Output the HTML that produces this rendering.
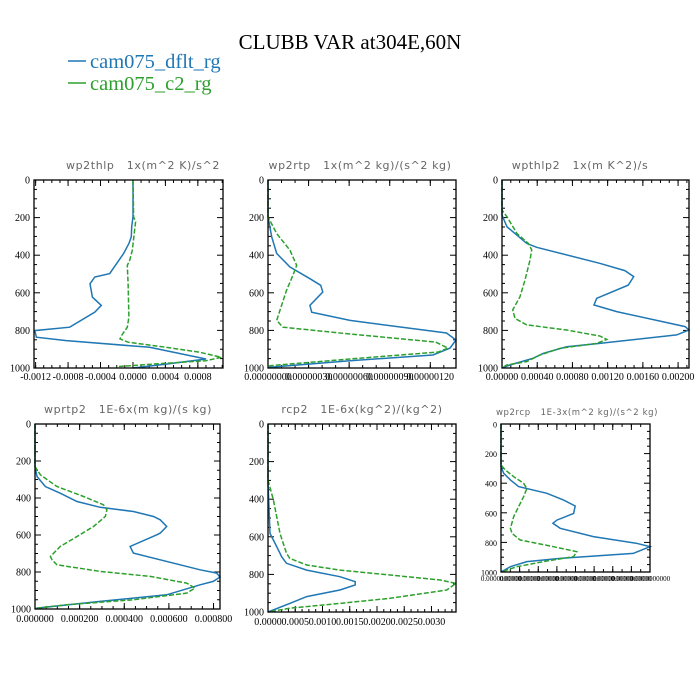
<!DOCTYPE html>
<html><head><meta charset="utf-8"><style>
body{margin:0;background:#fff;}
svg{display:block;}
.tt{font-family:"Liberation Serif",serif;fill:#000;}
.pt{font-family:"DejaVu Sans","Liberation Sans",sans-serif;fill:#666;white-space:pre;letter-spacing:0.6px;}
</style></head><body>
<svg id="fig" width="700" height="700" viewBox="0 0 700 700">
<text x="350" y="49" text-anchor="middle" class="tt" font-size="21">CLUBB VAR at304E,60N</text>
<g>
<line x1="68" y1="61" x2="86" y2="61" stroke="#1f77b4" stroke-width="1.5"/>
<text x="90" y="68" class="tt" font-size="20.5" style="fill:#1f77b4">cam075_dflt_rg</text>
<line x1="68" y1="83" x2="86" y2="83" stroke="#2ca02c" stroke-width="1.5"/>
<text x="90" y="90" class="tt" font-size="20.5" style="fill:#2ca02c">cam075_c2_rg</text>
</g>
</svg>
<script>
// ---- data (pressure levels, values) ----
const p1Pb=[0,196,249,302,338,391,498,516,552,623,667,703,783,801,836,854,890,952,979,1000];
const p1Vb=[0,0,-0.000016,-0.00002,-0.00005,-0.000115,-0.000287,-0.00047,-0.00053,-0.0005,-0.00039,-0.00047,-0.00078,-0.00121,-0.00119,-0.00082,0.000205,0.0009,0.00041,0];
const p1Pg=[0,196,222,374,427,454,552,730,783,827,845,863,890,916,943,961,979,993];
const p1Vg=[0,0.000008,0.000033,-0.000008,-0.00004,-0.00007,-0.00006,-0.00005,-0.00007,-0.00014,-0.00016,-0.00006,0.00041,0.00082,0.00109,0.0009,0.00025,-0.0002];
const p1Ticks=[-0.0012,-0.0008,-0.0004,0,0.0004,0.0008];
const p1Labels=["-0.0012","-0.0008","-0.0004","0.0000","0.0004","0.0008"];

const p2Pb=[0,196,302,391,463,525,560,596,667,703,747,814,851,894,931,961,996,1000];
const p2Vb=[0,0,2.7,6.4,16.3,31,39,40.5,31,32.3,60.6,132,139,134.6,122,60.6,1.5,0];
const p2Pg=[0,196,285,374,454,507,587,694,747,783,819,862,894,915,952,988,1000];
const p2Vg=[0,0,6.4,16.3,21.2,18.4,13.7,8.8,6.4,11,60.6,124,133,126,60.6,1.5,0];
const p2Ticks=[0,30,60,90,120];
const p2Labels=["0.00000000","0.00000030","0.00000060","0.00000090","0.00000120"];

const p3Pb=[0,187,249,337,358,443,482,514,559,629,665,700,780,798,824,869,887,922,948,984,1000];
const p3Vb=[0,0,5.7,28,39.4,111,139.5,149.6,143.4,107.6,104.5,130.3,208,212.4,198.4,111,73.5,47,35.5,9,0];
const p3Pg=[0,160,196,285,337,372,426,532,621,691,736,771,798,830,848,869,895,931,966,984,1000];
const p3Vg=[0,0,5.7,17,29.9,33.7,31.8,26.1,20.4,12.2,14.8,28,73.5,111,119,107.6,65.9,43.2,28,5.3,0];
const p3Ticks=[0,40,80,120,160,200];
const p3Labels=["0.00000","0.00040","0.00080","0.00120","0.00160","0.00200"];

const p4Pb=[0,230,284,338,374,419,450,473,500,518,554,590,599,662,698,788,806,827,851,869,923,959,995,1000];
const p4Vb=[0,0,9,46,113,188,292,441,531,561,590,561,546,426,441,740,814,829,799,740,590,292,9,0];
const p4Pg=[0,230,275,338,392,437,464,500,554,608,662,716,734,761,797,824,860,887,914,950,977,995,1000];
const p4Vg=[0,0,24,98,218,307,322,315,262,188,113,69,76,98,292,516,680,717,680,441,143,9,0];
const p4Ticks=[0,200,400,600,800];
const p4Labels=["0.000000","0.000200","0.000400","0.000600","0.000800"];

const p5Pb=[0,316,404,582,652,688,706,741,777,812,839,856,883,918,954,1000];
const p5Vb=[0,0,0.12,0.37,1.59,2.2,2.5,3.4,7.1,13.2,16.0,16.0,13.2,7.1,4.0,0];
const p5Pg=[0,298,404,582,688,715,750,777,803,830,848,883,927,954,980,1000];
const p5Vg=[0,0,1.0,2.2,3.4,4.0,7.1,13.2,22.4,31.6,34.5,32.8,22.4,13.2,4.0,0];
const p5Ticks=[0,5,10,15,20,25,30];
const p5Labels=["0.0000","0.0005","0.0010","0.0015","0.0020","0.0025","0.0030"];

const p6Pb=[0,288,333,378,423,468,514,554,604,649,671,705,761,806,829,874,908,930,964,1000];
const p6Vb=[0,0,1.8,6.3,11.8,30.8,42,49.8,48.7,37.5,34.8,39.7,62,91,100,88.8,39.7,17.4,6.3,0];
const p6Pg=[0,277,311,356,401,435,491,559,626,705,739,784,829,863,896,930,964,998];
const p6Vg=[0,0,2.9,8.5,15.2,17.4,15.2,11.8,8.5,6.3,7.4,12.9,35.3,50.9,48.7,28.6,10.7,0.7];
const p6Ticks=[0,12.5,25,37.5,50,62.5,75,87.5,100];
const p6Labels=["0.0000000000","0.0000000000","0.0000000000","0.0000000000","0.0000000000","0.0000000000","0.0000000000","0.0000000000","0.0000000000"];

const yTicks=[0,200,400,600,800,1000];

const NS="http://www.w3.org/2000/svg";
const svg=document.getElementById('fig');
function mk(tag,attrs,parent){const e=document.createElementNS(NS,tag);for(const k in attrs)e.setAttribute(k,attrs[k]);(parent||svg).appendChild(e);return e;}

function panel(o){
  const g=mk('g',{});
  
  
  const L=o.box[0],R=o.box[1],T=o.box[2],B=o.box[3];
  const sx=v=>L+(v-o.xmin)/(o.xmax-o.xmin)*(R-L);
  const sy=p=>T+p/1000*(B-T);
  const ti=mk('text',{x:o.tx,y:o.ty,'text-anchor':'middle','class':'pt','font-size':o.tfs},g);
  ti.textContent=o.title;
  
  
  for(let p=0;p<=1000;p+=50){
    const len=(p%200===0)?6:3;
    mk('line',{x1:L,x2:L+len,y1:sy(p),y2:sy(p),stroke:'#000','stroke-width':1},g);
    mk('line',{x1:R,x2:R-len,y1:sy(p),y2:sy(p),stroke:'#000','stroke-width':1},g);
  }
  yTicks.forEach(p=>{
    const t=mk('text',{x:L-4,y:sy(p)+3.5,'text-anchor':'end','class':'tt','font-size':o.yfs},g);
    t.textContent=String(p);
    
    
  });
  for(let v=o.xmin-((o.xmin%o.minor)+o.minor)%o.minor;v<=o.xmax+1e-12;v+=o.minor){
    const x=sx(v); if(x<L-0.5||x>R+0.5)continue;
    mk('line',{x1:x,x2:x,y1:B,y2:B-3,stroke:'#000','stroke-width':1},g);
    mk('line',{x1:x,x2:x,y1:T,y2:T+3,stroke:'#000','stroke-width':1},g);
  }
  o.ticks.forEach((v,i)=>{
    const x=sx(v);
    mk('line',{x1:x,x2:x,y1:B,y2:B-6,stroke:'#000','stroke-width':1},g);
    mk('line',{x1:x,x2:x,y1:T,y2:T+6,stroke:'#000','stroke-width':1},g);
    const t=mk('text',{x:x,y:B+o.xly,'text-anchor':'middle','class':'tt','font-size':o.xfs},g);
    t.textContent=o.labels[i];
    
    
  });
  const ser=(P,V,col,dash,nm)=>{
    const d=P.map((p,i)=>(i?'L':'M')+sx(V[i]).toFixed(1)+','+sy(p).toFixed(1)).join(' ');
    const e=mk('path',{d:d,fill:'none',stroke:col,'stroke-width':1.5,'stroke-dasharray':dash},g);
    
    
  };
  ser(o.pb,o.vb,'#1f77b4','none',o.name+'-dflt-line');
  ser(o.pg,o.vg,'#2ca02c','5,2',o.name+'-c2-line');
  const fr=mk('rect',{x:L,y:T,width:R-L,height:B-T,fill:'none',stroke:'#000','stroke-width':1.3},g);
  
  
}
panel({name:'wp2thlp',box:[34,223,180,368],xmin:-0.00122,xmax:0.00111,minor:0.0001,ticks:p1Ticks,labels:p1Labels,pb:p1Pb,vb:p1Vb,pg:p1Pg,vg:p1Vg,title:'wp2thlp   1x(m^2 K)/s^2',tx:143,ty:169,tfs:11,yfs:10,xfs:10,xly:12});
panel({name:'wp2rtp',box:[268,456,180,368],xmin:0,xmax:139,minor:10,ticks:p2Ticks,labels:p2Labels,pb:p2Pb,vb:p2Vb,pg:p2Pg,vg:p2Vg,title:'wp2rtp   1x(m^2 kg)/(s^2 kg)',tx:360,ty:169,tfs:11,yfs:10,xfs:10,xly:12});
panel({name:'wpthlp2',box:[502,689,180,368],xmin:0,xmax:212.4,minor:10,ticks:p3Ticks,labels:p3Labels,pb:p3Pb,vb:p3Vb,pg:p3Pg,vg:p3Vg,title:'wpthlp2   1x(m K^2)/s',tx:580,ty:169,tfs:11,yfs:10,xfs:10,xly:12});
panel({name:'wprtp2',box:[35,220,424,609],xmin:0,xmax:829,minor:50,ticks:p4Ticks,labels:p4Labels,pb:p4Pb,vb:p4Vb,pg:p4Pg,vg:p4Vg,title:'wprtp2   1E-6x(m kg)/(s kg)',tx:128,ty:413,tfs:11,yfs:10,xfs:10,xly:13});
panel({name:'rcp2',box:[268,456,424,612],xmin:0,xmax:34.5,minor:1.25,ticks:p5Ticks,labels:p5Labels,pb:p5Pb,vb:p5Vb,pg:p5Pg,vg:p5Vg,title:'rcp2   1E-6x(kg^2)/(kg^2)',tx:362,ty:413,tfs:11,yfs:10,xfs:10,xly:13});
panel({name:'wp2rcp',box:[501,650,424,572],xmin:0,xmax:100,minor:6.25,ticks:p6Ticks,labels:p6Labels,pb:p6Pb,vb:p6Vb,pg:p6Pg,vg:p6Vg,title:'wp2rcp   1E-3x(m^2 kg)/(s^2 kg)',tx:577,ty:415,tfs:8.5,yfs:8,xfs:7,xly:9});
</script>
</body></html>
